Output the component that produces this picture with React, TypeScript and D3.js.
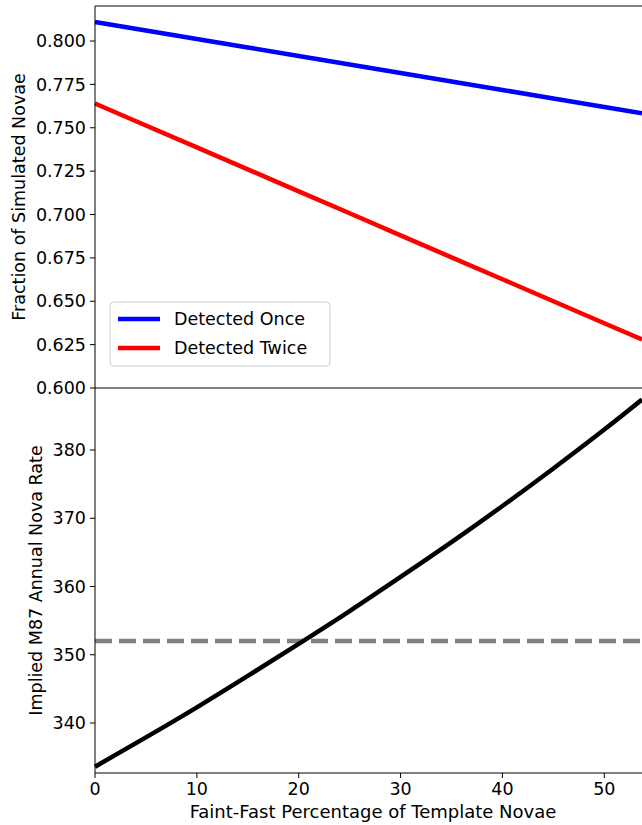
import React from "react";
import * as d3 from "d3";

const xs = [0, 5, 10, 15, 20, 25, 30, 35, 40, 45, 50, 53.7];
const once = [0.811, 0.8061, 0.8012, 0.7963, 0.7914, 0.7865, 0.7816, 0.7767, 0.7718, 0.7669, 0.762, 0.7584];
const twice = [0.764, 0.7513, 0.7387, 0.726, 0.7133, 0.7007, 0.688, 0.6753, 0.6627, 0.65, 0.6373, 0.628];
const rate = [333.6, 337.9, 342.3, 346.9, 351.6, 356.4, 361.4, 366.5, 371.8, 377.3, 383.0, 387.4];
const reference = 352;
const topTicks = [0.6, 0.625, 0.65, 0.675, 0.7, 0.725, 0.75, 0.775, 0.8];
const botTicks = [340, 350, 360, 370, 380];
const xTicks = [0, 10, 20, 30, 40, 50];

export default function App() {
  const L = 95, R = 642, T = 6, M = 388, B = 773;
  const x = d3.scaleLinear().domain([0, 53.7]).range([L, R]);
  const yt = d3.scaleLinear().domain([0.6, 0.8]).range([M, 41]);
  const yb = d3.scaleLinear().domain([340, 380]).range([723, 450]);
  const lt = d3.line<number>().x((_, i) => x(xs[i])).y(d => yt(d));
  const lb = d3.line<number>().x((_, i) => x(xs[i])).y(d => yb(d)).curve(d3.curveNatural);
  const font = "DejaVu Sans";
  const fs = 17.5;
  return (
    <svg width={642} height={825} style={{ position: "absolute", left: 0, top: 0 }} fontFamily={font}>
      <rect width={642} height={825} fill="white" />
      <path d={lt(once)!} stroke="#0000ff" strokeWidth={4.5} fill="none" />
      <path d={lt(twice)!} stroke="#ff0000" strokeWidth={4.5} fill="none" />
      <line x1={L} x2={R} y1={yb(reference)} y2={yb(reference)} stroke="gray" strokeWidth={4.5} strokeDasharray="17,7" />
      <path d={lb(rate)!} stroke="black" strokeWidth={4.5} fill="none" />
      <line x1={L} x2={R} y1={T} y2={T} stroke="black" />
      <line x1={L} x2={R} y1={M} y2={M} stroke="black" />
      <line x1={L} x2={R} y1={B} y2={B} stroke="black" />
      <line x1={L} x2={L} y1={T} y2={B} stroke="black" />
      {topTicks.map(t => (
        <g key={t}>
          <line x1={L - 5} x2={L} y1={yt(t)} y2={yt(t)} stroke="black" />
          <text x={L - 9} y={yt(t)} dy="0.35em" textAnchor="end" fontSize={fs}>{t.toFixed(3)}</text>
        </g>
      ))}
      {botTicks.map(t => (
        <g key={t}>
          <line x1={L - 5} x2={L} y1={yb(t)} y2={yb(t)} stroke="black" />
          <text x={L - 9} y={yb(t)} dy="0.35em" textAnchor="end" fontSize={fs}>{t}</text>
        </g>
      ))}
      {xTicks.map(t => (
        <g key={t}>
          <line x1={x(t)} x2={x(t)} y1={B} y2={B + 5} stroke="black" />
          <text x={x(t)} y={B + 22} textAnchor="middle" fontSize={fs}>{t}</text>
        </g>
      ))}
      <text x={373} y={818} textAnchor="middle" fontSize={18}>Faint-Fast Percentage of Template Novae</text>
      <text transform={`translate(25,${(T + M) / 2}) rotate(-90)`} textAnchor="middle" fontSize={fs}>Fraction of Simulated Novae</text>
      <text transform={`translate(42,${(M + B) / 2}) rotate(-90)`} textAnchor="middle" fontSize={fs}>Implied M87 Annual Nova Rate</text>
      <rect x={110} y={302} width={220} height={64} rx={4} fill="white" stroke="#ccc" />
      <line x1={118} x2={160} y1={319} y2={319} stroke="#0000ff" strokeWidth={4.5} />
      <text x={174} y={319} dy="0.35em" fontSize={fs}>Detected Once</text>
      <line x1={118} x2={160} y1={348} y2={348} stroke="#ff0000" strokeWidth={4.5} />
      <text x={174} y={348} dy="0.35em" fontSize={fs}>Detected Twice</text>
    </svg>
  );
}
